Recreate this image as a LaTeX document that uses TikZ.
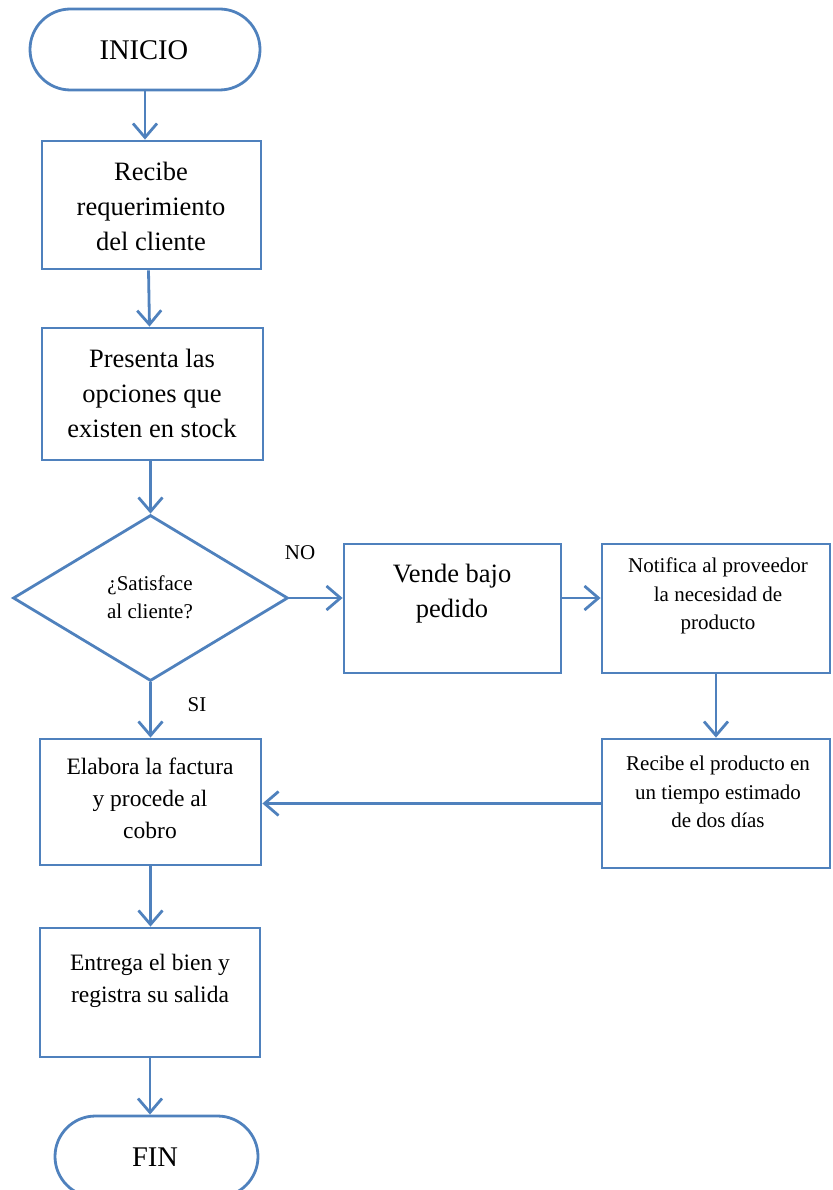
\documentclass[tikz,border=0pt]{standalone}
\usepackage{fontspec}
\setmainfont{Liberation Serif}
\usetikzlibrary{shapes.geometric,shapes.misc,arrows.meta}
\definecolor{fcblue}{RGB}{79,129,189}
\tikzset{
  fc/.style={draw=fcblue, line width=2.8pt},
  box/.style={fc, rectangle, inner sep=0pt},
  term/.style={fc, rounded rectangle, inner sep=0pt},
  arr/.style={draw=fcblue, line width=2.8pt, -{Straight Barb[length=14pt,width=24pt]}},
  tbig/.style={align=center, font=\fontsize{26.5}{35}\selectfont, inner sep=0pt},
  tmid/.style={align=center, font=\fontsize{23.5}{32}\selectfont, inner sep=0pt},
  tsmall/.style={align=center, font=\fontsize{21}{28.5}\selectfont, inner sep=0pt},
  tterm/.style={font=\fontsize{28.5}{34}\selectfont, inner sep=0pt}
}
\begin{document}
\begin{tikzpicture}[x=1pt,y=-1pt]
\useasboundingbox (0,0) rectangle (832,1190);
% shapes
\node[term, minimum width=230pt, minimum height=81pt] (ini) at (145,49.5) {};
\node[tterm] (tini) at (144,50) {INICIO};
\node[box, minimum width=219pt, minimum height=128pt] (b1) at (151.5,205) {};
\node[tbig] (tb1) at (151,206) {Recibe\\requerimiento\\del cliente};
\node[box, minimum width=221pt, minimum height=132pt] (b2) at (152.5,394) {};
\node[tbig] (tb2) at (152,393) {Presenta las\\opciones que\\existen en stock};
\node[fc, diamond, inner sep=0pt, minimum width=275pt, minimum height=166pt] (dia) at (150.5,598) {};
\node[tsmall] (tdia) at (150,597) {¿Satisface\\al cliente?};
\node[box, minimum width=217pt, minimum height=129pt] (ven) at (452.5,608.5) {};
\node[tbig] (tven) at (452,594) {Vende bajo\\pedido};
\node[box, minimum width=228pt, minimum height=129pt] (not) at (716,608.5) {};
\node[tsmall] (tnot) at (718,596) {Notifica al proveedor\\la necesidad de\\producto};
\node[box, minimum width=228pt, minimum height=129pt] (rec) at (716,803.5) {};
\node[tsmall] (trec) at (718,792) {Recibe el producto en\\un tiempo estimado\\de dos días};
\node[box, minimum width=221pt, minimum height=126pt] (ela) at (150.5,802) {};
\node[tmid] (tela) at (150,798) {Elabora la factura\\y procede al\\cobro};
\node[box, minimum width=220pt, minimum height=129pt] (ent) at (150,992.5) {};
\node[tmid] (tent) at (150,981) {Entrega el bien y\\registra su salida};
\node[term, minimum width=203pt, minimum height=81pt] (fin) at (156.5,1156.5) {};
\node[tterm] (tfin) at (155,1157) {FIN};
% labels
\node[tsmall] (lno) at (300,553) {NO};
\node[tsmall] (lsi) at (197,705) {SI};
% connectors
\draw[arr] (ini.south) -- (ini.south |- b1.north);
\draw[arr] ([xshift=-3pt]b1.south) -- ([xshift=-3pt]b2.north);
\draw[arr] (b2.south -| dia.north) -- (dia.north);
\draw[arr] (dia.east) -- (dia.east -| ven.west);
\draw[arr] (dia.east -| ven.east) -- (dia.east -| not.west);
\draw[arr] (not.south) -- (rec.north);
\draw[arr] (rec.west) -- (rec.west -| ela.east);
\draw[arr] (dia.south) -- (dia.south |- ela.north);
\draw[arr] (ela.south) -- (ela.south |- ent.north);
\draw[arr] (ent.south) -- (ent.south |- fin.north);
\end{tikzpicture}
\end{document}
